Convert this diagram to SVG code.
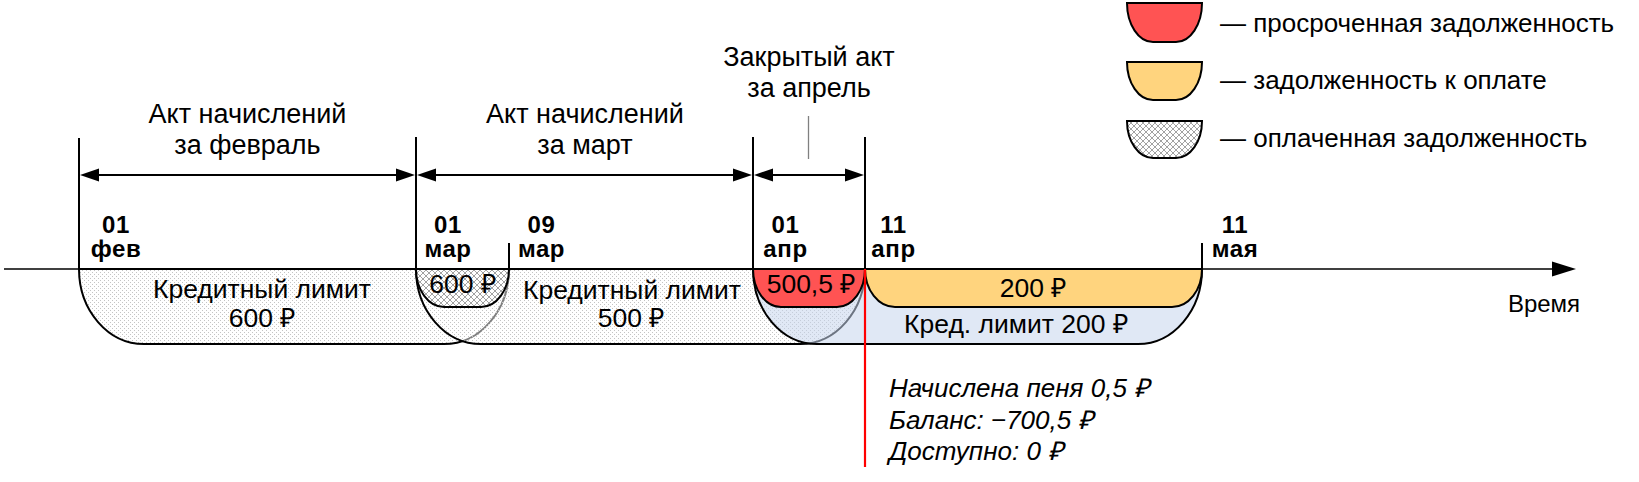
<svg xmlns="http://www.w3.org/2000/svg" width="1639" height="482" viewBox="0 0 1639 482">
<defs>
<style>
text{font-family:"Liberation Sans",Arial,sans-serif;fill:#000}
.lbl{font-size:27px;text-anchor:middle}
.val{font-size:26.5px;text-anchor:middle}
.date{font-size:24px;font-weight:bold;text-anchor:middle;letter-spacing:0.6px}
.leg{font-size:26px}
.note{font-size:26px;font-style:italic}
.ol{stroke:#000;stroke-width:2}
.vl{stroke:#000;stroke-width:2;fill:none}
</style>
<pattern id="dots" width="4" height="4" patternUnits="userSpaceOnUse">
<rect width="4" height="4" fill="#fff"/>
<rect x="0" y="0" width="1" height="1" fill="#c4c4c4"/>
<rect x="2" y="2" width="1" height="1" fill="#c4c4c4"/>
</pattern>
<pattern id="dots2" width="4" height="4" patternUnits="userSpaceOnUse">
<rect width="4" height="4" fill="#fff" fill-opacity="0.5"/>
<rect x="0" y="0" width="1" height="1" fill="#c4c4c4"/>
<rect x="2" y="2" width="1" height="1" fill="#c4c4c4"/>
</pattern>
<pattern id="hatch" width="6" height="6" patternUnits="userSpaceOnUse">
<rect width="6" height="6" fill="#fff"/>
<path d="M0,0 L6,6 M6,0 L0,6 M-1,5 L1,7 M5,-1 L7,1 M-1,1 L1,-1 M5,7 L7,5" stroke="#8a8a8a" stroke-width="0.8"/>
</pattern>
</defs>

<g id="legend">
<g id="legend-overdue">
<path d="M1127,3 A26,39 0 0 0 1153,42 L1176,42 A26,39 0 0 0 1202,3 Z" fill="#ff5353" class="ol"/>
<text class="leg" x="1220" y="32">— просроченная задолженность</text>
</g>
<g id="legend-due">
<path d="M1127,62 A26,38 0 0 0 1153,100 L1176,100 A26,38 0 0 0 1202,62 Z" fill="#ffd47e" class="ol"/>
<text class="leg" x="1220" y="89">— задолженность к оплате</text>
</g>
<g id="legend-paid">
<path d="M1127,121 A26,37 0 0 0 1153,158 L1176,158 A26,37 0 0 0 1202,121 Z" fill="url(#hatch)" class="ol"/>
<text class="leg" x="1220" y="147">— оплаченная задолженность</text>
</g>
</g>

<g id="shapes">
<g id="feb-limit">
<path d="M79,269 A65,75 0 0 0 144,344 L444,344 A65,75 0 0 0 509,269 Z" fill="url(#dots)" class="ol"/>
</g>
<g id="mar-limit">
<path d="M416,269 A65,75 0 0 0 481,344 L800,344 A65,75 0 0 0 865,269 Z" fill="url(#dots2)" class="ol"/>
</g>
<g id="apr-limit">
<path d="M753,269 A64,75 0 0 0 817,344 L1138,344 A64,75 0 0 0 1202,269 Z" fill="#c7d5ed" fill-opacity="0.55" class="ol"/>
</g>
<g id="paid-600">
<path d="M416,269 A28,38 0 0 0 444,307 L481,307 A28,38 0 0 0 509,269 Z" fill="url(#hatch)" class="ol"/>
</g>
<g id="overdue-500">
<path d="M753,269 A28,38 0 0 0 781,307 L837,307 A28,38 0 0 0 865,269 Z" fill="#ff5353" class="ol"/>
</g>
<g id="due-200">
<path d="M865,269 A30,38 0 0 0 895,307 L1172,307 A30,38 0 0 0 1202,269 Z" fill="#ffd47e" class="ol"/>
</g>
</g>

<g id="connectors">
<line x1="4" y1="269" x2="1553" y2="269" stroke="#000" stroke-width="1.3"/>
<polygon points="1552,261.5 1576,269 1552,276.5" fill="#000"/>
<line x1="79" y1="269" x2="1202" y2="269" stroke="#000" stroke-width="2.2"/>
<line x1="79" y1="138" x2="79" y2="269" class="vl"/>
<line x1="416" y1="137" x2="416" y2="269" class="vl"/>
<line x1="753" y1="137" x2="753" y2="269" class="vl"/>
<line x1="865" y1="137" x2="865" y2="269" class="vl"/>
<line x1="509" y1="243" x2="509" y2="269" class="vl"/>
<line x1="1202" y1="243" x2="1202" y2="269" class="vl"/>
<line x1="865" y1="269" x2="865" y2="467" stroke="#ff0000" stroke-width="2.2"/>
<line x1="808.5" y1="116" x2="808.5" y2="159" stroke="#808080" stroke-width="1.3"/>
<g id="dim-feb">
<line x1="95" y1="175" x2="400" y2="175" stroke="#000" stroke-width="2"/>
<polygon points="80,175 99,168.5 99,181.5" fill="#000"/>
<polygon points="415,175 396,168.5 396,181.5" fill="#000"/>
</g>
<g id="dim-mar">
<line x1="432" y1="175" x2="737" y2="175" stroke="#000" stroke-width="2"/>
<polygon points="417,175 436,168.5 436,181.5" fill="#000"/>
<polygon points="752,175 733,168.5 733,181.5" fill="#000"/>
</g>
<g id="dim-apr">
<line x1="769" y1="175" x2="849" y2="175" stroke="#000" stroke-width="2"/>
<polygon points="754,175 773,168.5 773,181.5" fill="#000"/>
<polygon points="864,175 845,168.5 845,181.5" fill="#000"/>
</g>
</g>

<g id="labels">
<text class="lbl" x="247.5" y="123">Акт начислений</text>
<text class="lbl" x="247.5" y="154">за февраль</text>
<text class="lbl" x="585" y="123">Акт начислений</text>
<text class="lbl" x="585" y="154">за март</text>
<text class="lbl" x="809" y="66">Закрытый акт</text>
<text class="lbl" x="809" y="97">за апрель</text>

<text class="date" x="116" y="233">01</text>
<text class="date" x="116" y="257">фев</text>
<text class="date" x="448" y="233">01</text>
<text class="date" x="448" y="257">мар</text>
<text class="date" x="541.5" y="233">09</text>
<text class="date" x="541.5" y="257">мар</text>
<text class="date" x="785.5" y="233">01</text>
<text class="date" x="785.5" y="257">апр</text>
<text class="date" x="893.5" y="233">11</text>
<text class="date" x="893.5" y="257">апр</text>
<text class="date" x="1235" y="233">11</text>
<text class="date" x="1235" y="257">мая</text>

<text class="val" x="262" y="298">Кредитный лимит</text>
<text class="val" x="262" y="327">600 ₽</text>
<text class="val" x="462.5" y="293">600 ₽</text>
<text class="val" x="632" y="299">Кредитный лимит</text>
<text class="val" x="631" y="327">500 ₽</text>
<text class="val" x="811" y="293">500,5 ₽</text>
<text class="val" x="1033" y="297">200 ₽</text>
<text class="val" x="1016" y="333">Кред. лимит 200 ₽</text>

<text class="val" x="1544" y="312" style="font-size:24px">Время</text>

<text class="note" x="889" y="397">Начислена пеня 0,5 ₽</text>
<text class="note" x="889" y="429">Баланс: −700,5 ₽</text>
<text class="note" x="889" y="460">Доступно: 0 ₽</text>
</g>
</svg>
